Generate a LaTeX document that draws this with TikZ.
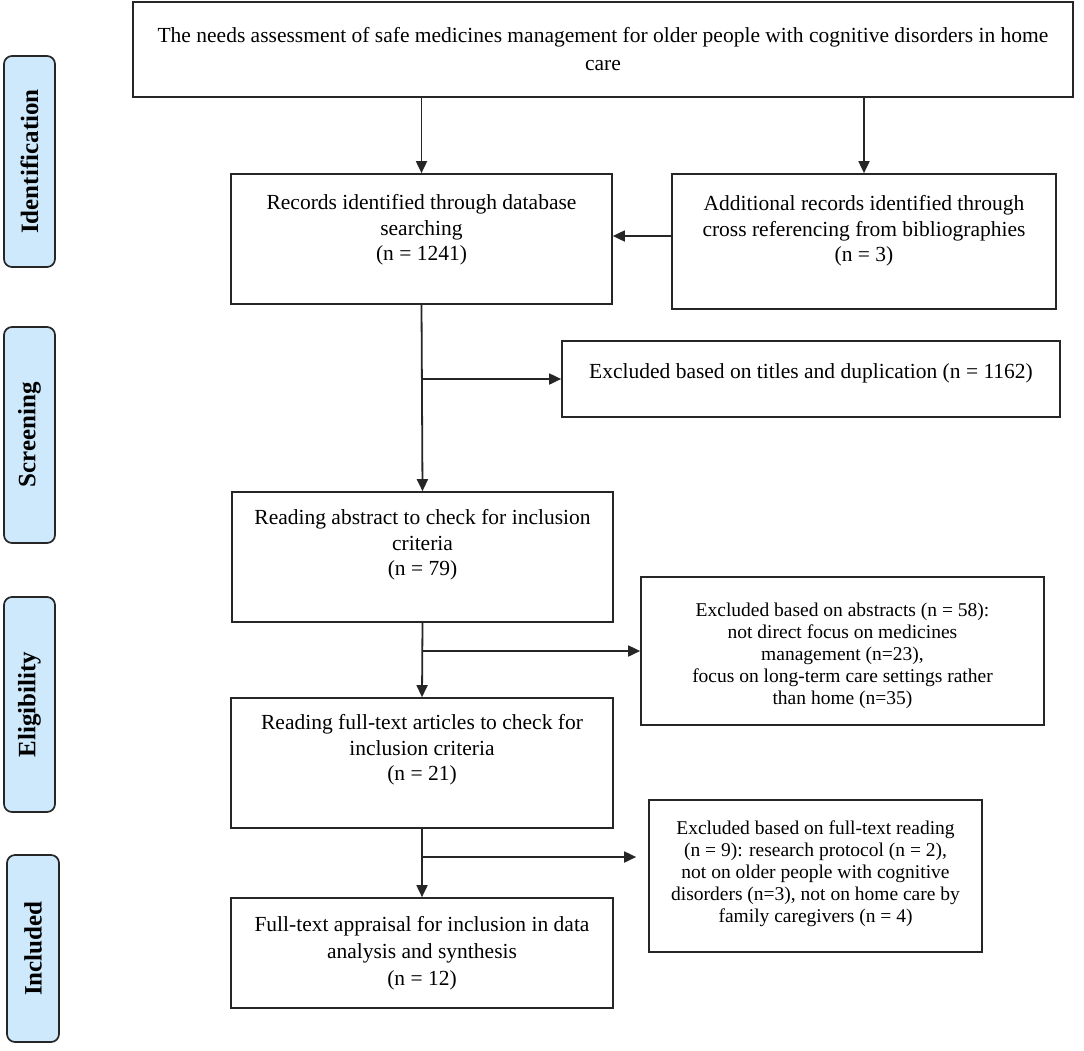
\documentclass[tikz,border=0pt]{standalone}
\usepackage{fontspec}
\setmainfont{Liberation Serif}
\usetikzlibrary{arrows.meta,calc,fit}
\definecolor{sideblue}{HTML}{CDE9FB}
\definecolor{edge}{HTML}{262626}
\begin{document}
\begin{tikzpicture}[x=1pt,y=-1pt,
  box/.style={draw=edge,line width=1.7pt,inner sep=0pt},
  txt/.style={align=center,inner sep=0pt,font=\fontsize{21.5}{25.5}\selectfont},
  smalltxt/.style={align=center,inner sep=0pt,font=\fontsize{19.5}{22}\selectfont},
  side/.style={draw=edge,line width=1.7pt,fill=sideblue,rounded corners=8pt,inner sep=0pt},
  sidetxt/.style={rotate=90,inner sep=0pt,font=\fontsize{25}{28}\selectfont\bfseries},
  arr/.style={draw=edge,line width=1.8pt,-{Triangle[length=12pt,width=11pt]}}]
\path[use as bounding box,fill=white] (0,0) rectangle (1084,1050);

% side labels
\node[side,fit={(4,56) (55,267)}] (ident) {};
\node[sidetxt] (ident-t) at (ident.center) {Identification};
\node[side,fit={(4,327) (55,543)}] (screen) {};
\node[sidetxt] (screen-t) at (screen.center) {Screening};
\node[side,fit={(4,597) (55,812)}] (elig) {};
\node[sidetxt] (elig-t) at (elig.center) {Eligibility};
\node[side,fit={(7,855) (59,1042)}] (incl) {};
\node[sidetxt] (incl-t) at (incl.center) {Included};

% boxes
\node[box,fit={(133,2) (1073,97)}] (top) {};
\node[txt,font=\fontsize{21.5}{28}\selectfont] (top-t) at (603,49) {The needs assessment of safe medicines management for older people with cognitive disorders in home\\care};

\node[box,fit={(231,174) (612,304)}] (records) {};
\node[txt] (records-t) at (421.5,230) {Records identified through database\\searching\\(n = 1241)};

\node[box,fit={(672,174) (1056,309)}] (additional) {};
\node[txt] (additional-t) at (864,231) {Additional records identified through\\cross referencing from bibliographies\\(n = 3)};

\node[box,fit={(562,341) (1060,417)}] (extitles) {};
\node[txt] (extitles-t) at (811,373) {Excluded based on titles and duplication (n = 1162)};

\node[box,fit={(232,492) (613,622)}] (abstract) {};
\node[txt] (abstract-t) at (422.5,545) {Reading abstract to check for inclusion\\criteria\\(n = 79)};

\node[box,fit={(641,577) (1044,725)}] (exabs) {};
\node[smalltxt] (exabs-t) at (842.5,656) {Excluded based on abstracts (n = 58):\\not direct focus on medicines\\management (n=23),\\focus on long-term care settings rather\\than home (n=35)};

\node[box,fit={(231,698) (613,828)}] (fulltext) {};
\node[txt] (fulltext-t) at (422,750) {Reading full-text articles to check for\\inclusion criteria\\(n = 21)};

\node[box,fit={(649,800) (982,952)}] (exft) {};
\node[smalltxt] (exft-t) at (815.5,874) {Excluded based on full-text reading\\(n = 9): research protocol (n = 2),\\not on older people with cognitive\\disorders (n=3), not on home care by\\family caregivers (n = 4)};

\node[box,fit={(231,898) (613,1008)}] (final) {};
\node[txt,font=\fontsize{21.5}{27}\selectfont] (final-t) at (422,953) {Full-text appraisal for inclusion in data\\analysis and synthesis\\(n = 12)};

% connectors
\coordinate (ya) at (0,236);
\coordinate (y3) at (0,857);
\draw[arr] (top.south -| records.north) -- (records.north);
\draw[arr] (top.south -| additional.north) -- (additional.north);
\draw[arr] (additional.west |- ya) -- (records.east |- ya);
\draw[arr] (records.south) -- (abstract.north);
\draw[arr] (extitles.west -| records.south) -- (extitles.west);
\draw[arr] (abstract.south) -- (fulltext.north);
\draw[arr] (exabs.west -| abstract.south) -- (exabs.west);
\draw[arr] (fulltext.south) -- (final.north);
\draw[arr] (fulltext.south |- y3) -- ([xshift=-12pt]exft.west |- y3);
\end{tikzpicture}
\end{document}
